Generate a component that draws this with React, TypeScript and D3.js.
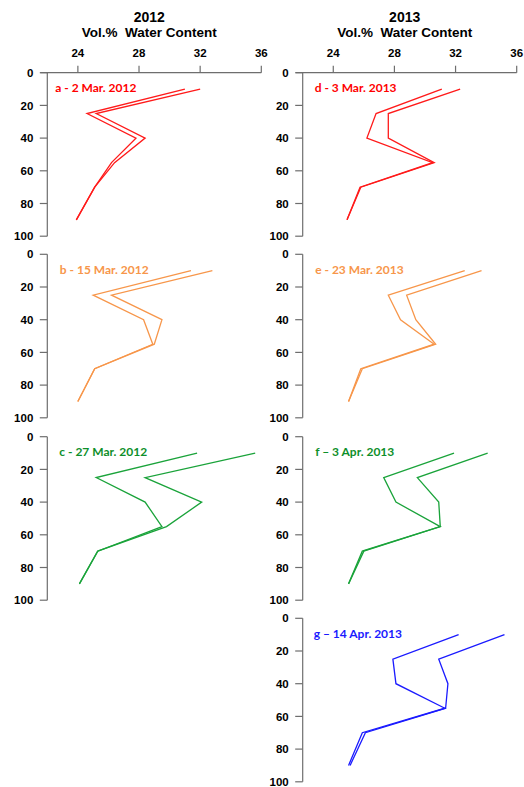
import React from "react";
import * as d3 from "d3";

// Sampling depths (cm) shared by every profile
const depths = [10, 25, 40, 55, 70, 90];

// Volumetric water content (%) per profile, two replicate lines each
const a1 = [32.0, 25.2, 28.4, 26.4, 25.1, 23.9];
const a2 = [31.0, 24.6, 27.8, 26.2, 25.1, 23.9];
const b1 = [32.8, 26.2, 29.5, 29.0, 25.1, 24.0];
const b2 = [31.4, 25.0, 28.3, 28.9, 25.1, 24.0];
const c1 = [35.6, 28.4, 32.1, 29.8, 25.3, 24.1];
const c2 = [31.8, 25.2, 28.4, 29.5, 25.3, 24.1];
const d1 = [32.3, 27.6, 27.6, 30.6, 25.8, 24.9];
const d2 = [31.1, 26.8, 26.2, 30.5, 25.75, 24.9];
const e1 = [33.7, 28.8, 29.4, 30.7, 25.9, 25.0];
const e2 = [32.6, 27.6, 28.4, 30.6, 25.8, 25.0];
const f1 = [34.1, 29.5, 30.9, 31.0, 26.0, 25.0];
const f2 = [31.9, 27.3, 28.1, 31.0, 25.9, 25.0];
const g1 = [35.2, 30.9, 31.5, 31.35, 26.1, 25.1];
const g2 = [32.2, 27.9, 28.1, 31.3, 25.9, 25.0];

const xTicks = [24, 28, 32, 36];
const yTicks = [0, 20, 40, 60, 80, 100];
const years = ["2012", "2013"];
const axisTitle = "Vol.%\u00a0 Water Content";

const labels = [
  "a - 2 Mar. 2012",
  "b - 15 Mar. 2012",
  "c - 27 Mar. 2012",
  "d - 3 Mar. 2013",
  "e - 23 Mar. 2013",
  "f \u2013 3 Apr. 2013",
  "g \u2013 14 Apr. 2013",
];

const RED = "#ff1a1a";
const ORANGE = "#f7964a";
const GREEN = "#1aa33a";
const BLUE = "#1a1aff";

const panels = [
  { col: 0, row: 0, label: labels[0], color: RED, text: "#ff0000", series: [a1, a2], dx: 8 },
  { col: 0, row: 1, label: labels[1], color: ORANGE, text: "#f7964a", series: [b1, b2], dx: 12.5 },
  { col: 0, row: 2, label: labels[2], color: GREEN, text: "#0e8f2a", series: [c1, c2], dx: 12 },
  { col: 1, row: 0, label: labels[3], color: RED, text: "#ff0000", series: [d1, d2], dx: 12 },
  { col: 1, row: 1, label: labels[4], color: ORANGE, text: "#f7964a", series: [e1, e2], dx: 12.5 },
  { col: 1, row: 2, label: labels[5], color: GREEN, text: "#0e8f2a", series: [f1, f2], dx: 12.5 },
  { col: 1, row: 3, label: labels[6], color: BLUE, text: "#1a1aff", series: [g1, g2], dx: 11 },
];

const colX = [47.3, 302.7];
const rowTop = [72.7, 254.3, 436.7, 618.3];
const plotW = 214;
const plotH = 163.5;
const AXIS = "#6e6e6e";
const ARIAL = "'Liberation Sans', Arial, sans-serif";
const LABEL_FONT = "Lato, 'Open Sans', sans-serif";

function Panel({ p }: { p: (typeof panels)[number] }) {
  const x0 = colX[p.col];
  const y0 = rowTop[p.row];
  const x = d3.scaleLinear().domain([22, 36]).range([x0, x0 + plotW]);
  const y = d3.scaleLinear().domain([0, 100]).range([y0, y0 + plotH]);
  const line = d3
    .line<number>()
    .x((v) => x(v))
    .y((_, i) => y(depths[i]));
  const showTop = p.row === 0;
  return (
    <g>
      {showTop && (
        <g>
          <line x1={x0 - 7} x2={x0 + plotW} y1={y0} y2={y0} stroke={AXIS} strokeWidth={1.2} />
          {xTicks.map((t) => (
            <g key={t}>
              <line x1={x(t)} x2={x(t)} y1={y0 - 7} y2={y0} stroke={AXIS} strokeWidth={1.2} />
              <text
                x={x(t)}
                y={y0 - 16}
                textAnchor="middle"
                fontFamily={ARIAL}
                fontWeight="bold"
                fontSize={11.5}
                fill="#000"
              >
                {t}
              </text>
            </g>
          ))}
          <text
            x={x0 + plotW / 2 - 5}
            y={21.7}
            textAnchor="middle"
            fontFamily={ARIAL}
            fontWeight="bold"
            fontSize={14}
          >
            {years[p.col]}
          </text>
          <text
            x={x0 + plotW / 2 - 5}
            y={37.3}
            textAnchor="middle"
            fontFamily={ARIAL}
            fontWeight="bold"
            fontSize={13.5}
          >
            {axisTitle}
          </text>
        </g>
      )}
      <line x1={x0} x2={x0} y1={y0} y2={y0 + plotH} stroke={AXIS} strokeWidth={1.2} />
      {yTicks.map((t) => (
        <g key={t}>
          <line x1={x0 - 7.5} x2={x0} y1={y(t)} y2={y(t)} stroke={AXIS} strokeWidth={1.2} />
          <text
            x={x0 - 14}
            y={y(t)}
            dy="0.36em"
            textAnchor="end"
            fontFamily={ARIAL}
            fontWeight="bold"
            fontSize={11.5}
            fill="#000"
          >
            {t}
          </text>
        </g>
      ))}
      {p.series.map((s, i) => (
        <path
          key={i}
          d={line(s) ?? ""}
          fill="none"
          stroke={p.color}
          strokeWidth={1.3}
          strokeLinejoin="miter"
        />
      ))}
      <text
        x={x0 + p.dx}
        y={y0 + 19.3}
        fontFamily={LABEL_FONT}
        fontWeight="bold"
        fontSize={12}
        fill={p.text}
      >
        {p.label}
      </text>
    </g>
  );
}

export default function App() {
  return (
    <svg
      width={524}
      height={787}
      style={{ position: "absolute", left: 0, top: 0, background: "#fff" }}
    >
      {panels.map((p) => (
        <Panel key={p.label} p={p} />
      ))}
    </svg>
  );
}
